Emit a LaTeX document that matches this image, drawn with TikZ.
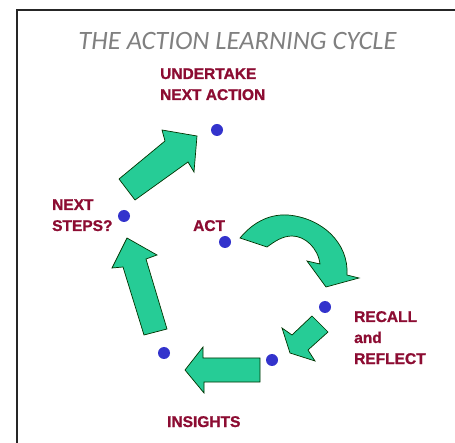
\documentclass[tikz,border=0pt]{standalone}
\usepackage{fontspec}
\setmainfont{Liberation Sans}
\newfontfamily\titlefont{Carlito}
\newfontfamily\lblfont[FakeBold=1.2]{Liberation Sans Bold}
\definecolor{lblred}{RGB}{140,12,50}
\definecolor{arrgreen}{RGB}{38,204,150}
\definecolor{dotblue}{RGB}{51,51,204}
\definecolor{titlegray}{RGB}{128,128,128}
\tikzset{
  lbl/.style={anchor=base west, inner sep=0pt, text=lblred, font=\lblfont\fontsize{15.5}{18}\selectfont},
  blockarrow/.style={fill=arrgreen, draw=black!80!green, line width=0.7pt, line join=miter},
  dotmark/.style={circle, fill=dotblue, inner sep=0pt, minimum size=12pt},
  frameline/.style={line width=2pt, draw=black!85}
}
\begin{document}
\begin{tikzpicture}[x=1pt,y=-1pt]
\useasboundingbox (0,0) rectangle (455,443);
% frame
\coordinate (fl) at (17,443);
\coordinate (fc) at (17,10);
\coordinate (fr) at (455,10);
\draw[frameline] (fl) -- (fc) -- (fr);
% title
\node[anchor=base, inner sep=0pt, text=titlegray, font=\titlefont\itshape\fontsize{26.5}{30}\selectfont] (title) at (237.5,50) {THE ACTION LEARNING CYCLE};
% labels
\node[lbl] (und1) at (160,79) {UNDERTAKE};
\node[lbl] (und2) at (160,100) {NEXT ACTION};
\node[lbl] (nxt1) at (52,210) {NEXT};
\node[lbl] (nxt2) at (52,231) {STEPS?};
\node[lbl] (act) at (193,231) {ACT};
\node[lbl] (rec1) at (354,322) {RECALL};
\node[lbl] (rec2) at (354,343) {and};
\node[lbl] (rec3) at (354,364) {REFLECT};
\node[lbl] (ins) at (167,427) {INSIGHTS};
% dots
\node[dotmark] (dunder) at (217,130) {};
\node[dotmark] (dnext) at (124,216) {};
\node[dotmark] (dact) at (225,242) {};
\node[dotmark] (drecall) at (325,307) {};
\node[dotmark] (dmid) at (272,360) {};
\node[dotmark] (dins) at (164,353) {};
% arrow: next steps -> undertake
\draw[blockarrow] (119,179) -- (165,141) -- (162,130) -- (197,136) -- (194,172) -- (188,162) -- (135,200) -- cycle;
% arrow: insights -> next steps
\draw[blockarrow] (127,238) -- (157,255) -- (146,259) -- (167,329) -- (144,335) -- (123,267) -- (112,268) -- cycle;
% arrow: mid -> insights
\draw[blockarrow] (185,370) -- (203,347) -- (203,358) -- (260,358) -- (260,382) -- (204,382) -- (204,393) -- cycle;
% arrow: recall -> mid
\draw[blockarrow] (290,353) -- (282,328) -- (292,335) -- (312,316) -- (328,332) -- (308,350) -- (315,361) -- cycle;
% curved arrow: act -> recall
\draw[blockarrow] (240,238) .. controls (255,220) and (272,214) .. (288,215)
  .. controls (322,218) and (349,243) .. (347,275) -- (359,278) -- (326,287) -- (307,261) -- (320,264)
  .. controls (318,248) and (305,236) .. (292,236)
  .. controls (282,236) and (274,242) .. (267,247) -- cycle;
\end{tikzpicture}
\end{document}
